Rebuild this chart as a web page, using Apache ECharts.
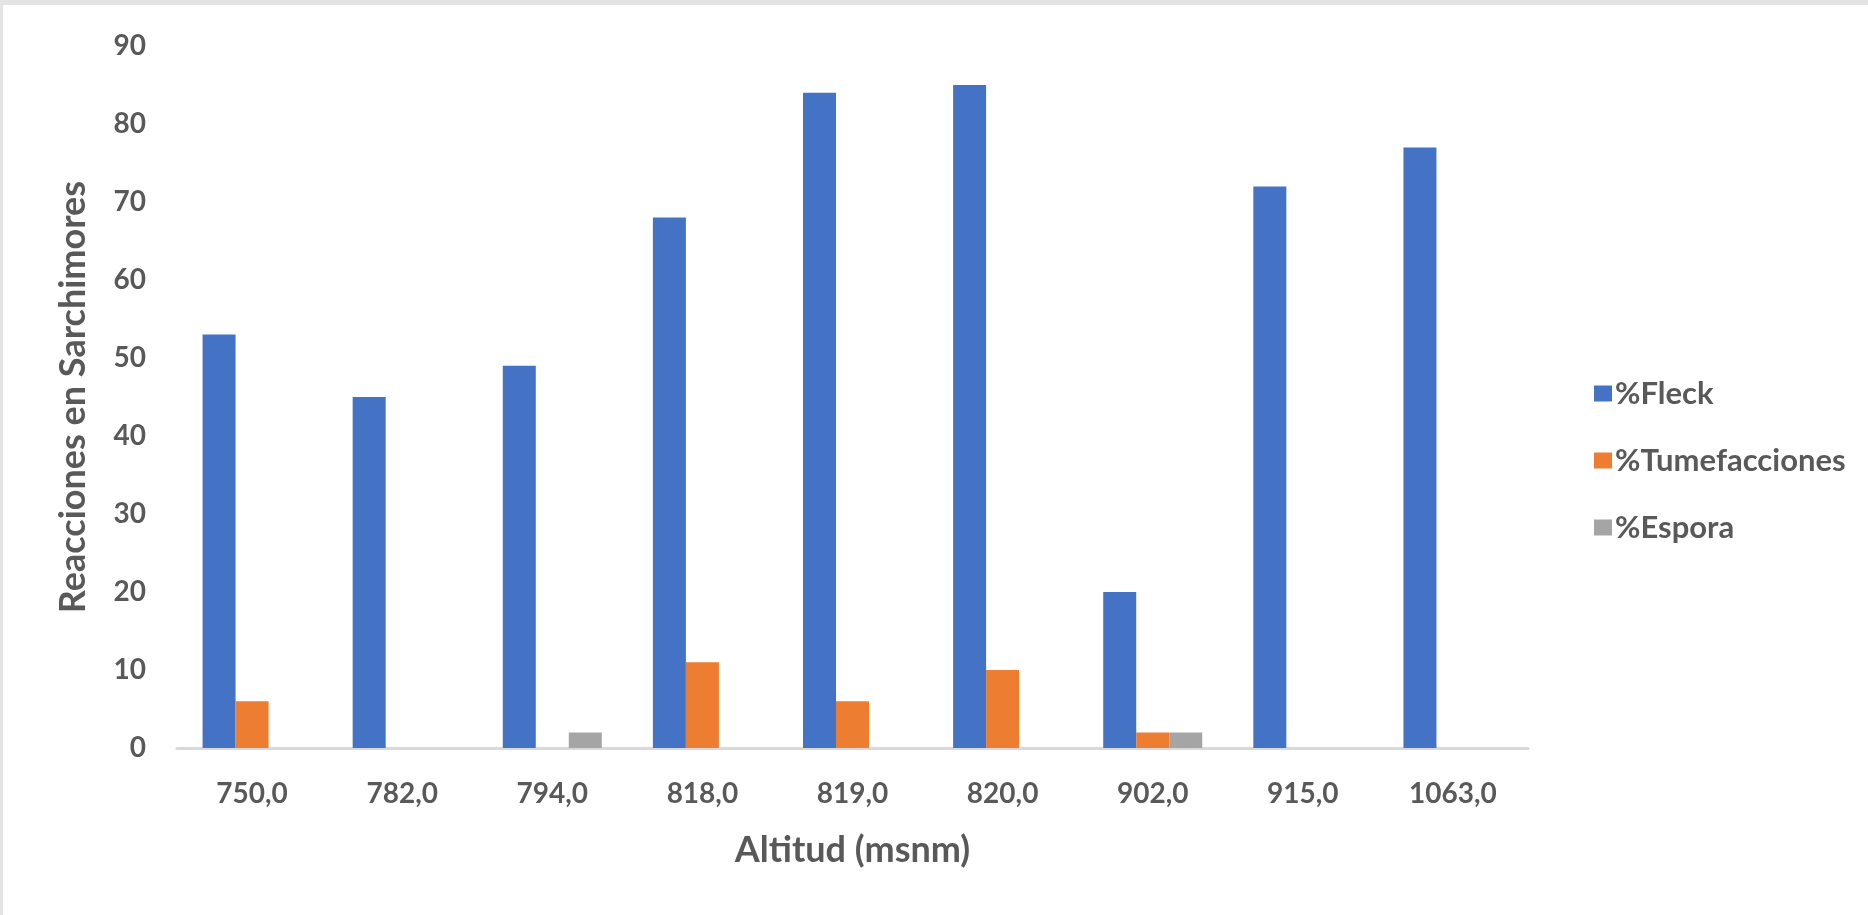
<!DOCTYPE html>
<html>
<head>
<meta charset="utf-8">
<script src="https://cdn.jsdelivr.net/npm/echarts@6/dist/echarts.min.js"></script>
<style>
html,body{margin:0;padding:0;background:#fff;}
#chart{position:absolute;left:0;top:0;width:1868px;height:915px;}
#bt{position:absolute;left:0;top:0;width:1868px;height:5px;background:#e4e4e4;}
#bl{position:absolute;left:0;top:0;width:3px;height:915px;background:#e4e4e4;}
</style>
</head>
<body>
<div id="chart"></div>
<div id="bt"></div>
<div id="bl"></div>
<script>
const categories = ['750,0','782,0','794,0','818,0','819,0','820,0','902,0','915,0','1063,0'];
const fleck = [53,45,49,68,84,85,20,72,77];
const tumefacciones = [6,0,0,11,6,10,2,0,0];
const espora = [0,0,2,0,0,0,2,0,0];
const seriesNames = ['%Fleck','%Tumefacciones','%Espora'];
const yTicks = {min:0, max:90, interval:10};

const txt = '#595959';
const font = 'Lato';
const chart = echarts.init(document.getElementById('chart'));
chart.setOption({
  animation:false,
  backgroundColor:'#fff',
  textStyle:{fontFamily:font},
  color:['#4472C4','#ED7D31','#A5A5A5'],
  grid:{left:177,right:340,top:46,bottom:167,containLabel:false},
  legend:{
    orient:'vertical', left:1589, top:373,
    itemWidth:18, itemHeight:16, itemGap:36,
    icon:'rect',
    textStyle:{color:txt,fontSize:31,fontWeight:'bold',fontFamily:font,padding:[0,0,0,-2]},
    data:seriesNames
  },
  xAxis:{
    type:'category', data:categories,
    name:'Altitud (msnm)', nameLocation:'middle', nameGap:84,
    nameTextStyle:{color:txt,fontSize:36,fontWeight:'bold',fontFamily:font},
    axisLine:{lineStyle:{color:'#d9d9d9',width:3}},
    axisTick:{show:false},
    axisLabel:{color:txt,fontSize:28,fontWeight:'bold',margin:32,fontFamily:font}
  },
  yAxis:{
    type:'value', min:yTicks.min, max:yTicks.max, interval:yTicks.interval,
    name:'Reacciones en Sarchimores', nameLocation:'middle', nameGap:86,
    nameTextStyle:{color:txt,fontSize:36,fontWeight:'bold',fontFamily:font},
    axisLine:{show:false}, axisTick:{show:false},
    splitLine:{show:false},
    axisLabel:{color:txt,fontSize:28,fontWeight:'bold',margin:31,fontFamily:font}
  },
  series:[
    {name:seriesNames[0],type:'bar',data:fleck,barWidth:33,barGap:'0%'},
    {name:seriesNames[1],type:'bar',data:tumefacciones,barWidth:33,barGap:'0%'},
    {name:seriesNames[2],type:'bar',data:espora,barWidth:33,barGap:'0%'}
  ]
});
</script>
</body>
</html>
